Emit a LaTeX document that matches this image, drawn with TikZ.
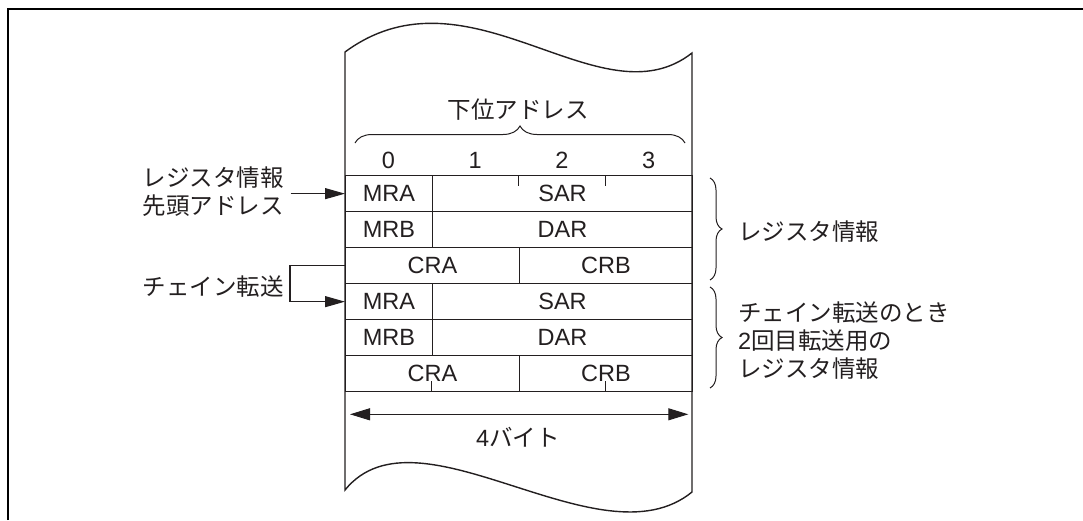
\documentclass[tikz,border=0pt]{standalone}
\usepackage{fontspec}
\setmainfont{Liberation Sans}
\newfontfamily\jp{Noto Sans CJK JP}
\definecolor{ink}{RGB}{35, 31, 32}
\usepackage{tikz}
\usetikzlibrary{arrows.meta, positioning, calc, decorations.pathreplacing}

\tikzset{
  txt/.style={font=\fontsize{23.5}{28}\selectfont, text=ink, inner sep=0pt},
  jptext/.style={font=\fontsize{23.5}{28}\selectfont\jp, text=ink, inner sep=0pt},
  cell/.style={draw=ink, line width=1.3pt, minimum height=36pt, inner sep=0pt,
    anchor=north west, font=\fontsize{23.5}{28}\selectfont, text=ink},
  pointer/.style={-{Triangle[length=20pt, width=11pt]}, draw=ink, line width=1.1pt},
  brace/.style={decorate, decoration={brace, amplitude=#1}, draw=ink, line width=1pt},
}

\begin{document}
\begin{tikzpicture}[x=1pt, y=-1pt]
  \useasboundingbox (0,0) rectangle (1083,520);

  %% FRAME
  \draw[line width=2.3pt] (8,520) -- (8,9) -- (1083,9);

  %% PAPER
  \filldraw[fill=white, draw=ink, line width=1.4pt]
    (345,52) .. controls (470,-40) and (600,125) .. (692,53)
    -- (692,492) .. controls (600,567) and (418,400) .. (345,490) -- cycle;

  %% LOWER ADDRESS
  \node[jptext] (lower) at (518,110) {下位アドレス};
  \draw[brace=17pt] (355,143) -- (685,143);
  \foreach \i in {0,...,3}
    \node[txt] (col\i) at (388.4+86.75*\i,160) {\i};

  %% REGISTER INFO
  \node[cell, minimum width=86.75pt]  (mra1) at (345,175) {MRA};
  \node[cell, minimum width=260.25pt] (sar1) at (431.75,175) {SAR};
  \node[cell, minimum width=86.75pt]  (mrb1) at (345,211) {MRB};
  \node[cell, minimum width=260.25pt] (dar1) at (431.75,211) {DAR};
  \node[cell, minimum width=173.5pt]  (cra1) at (345,247) {CRA};
  \node[cell, minimum width=173.5pt]  (crb1) at (518.5,247) {CRB};
  \draw[ink, line width=1pt] (518.5,175) -- ++(0,11) (605.25,175) -- ++(0,11);

  %% SECOND TRANSFER
  \node[cell, minimum width=86.75pt]  (mra2) at (345,283) {MRA};
  \node[cell, minimum width=260.25pt] (sar2) at (431.75,283) {SAR};
  \node[cell, minimum width=86.75pt]  (mrb2) at (345,319) {MRB};
  \node[cell, minimum width=260.25pt] (dar2) at (431.75,319) {DAR};
  \node[cell, minimum width=173.5pt]  (cra2) at (345,355) {CRA};
  \node[cell, minimum width=173.5pt]  (crb2) at (518.5,355) {CRB};
  \draw[ink, line width=1pt] (431.75,391) -- ++(0,-10) (605.25,391) -- ++(0,-10);

  %% 4 BYTES
  \draw[{Triangle[length=20pt, width=12pt]}-{Triangle[length=20pt, width=12pt]}, draw=ink, line width=1.1pt]
    ($(cra2.south west)+(5,22)$) -- ($(crb2.south east)+(-5,22)$);
  \node[txt] (bytes) at (518,437) {4{\jp バイト}};

  %% LEFT LABELS
  \node[jptext, align=center] (head) at (213,192) {レジスタ情報\\先頭アドレス};
  \draw[pointer, shorten <=7pt] (head.east |- mra1.west) -- (mra1.west);
  \node[jptext] (chain) at (213,287) {チェイン転送};
  \draw[pointer] (cra1.west) -- ++(-55,0) |- (mra2.west);

  %% RIGHT LABELS
  \draw[brace=12pt] (710,178) -- (710,280);
  \node[jptext, anchor=west] (reg) at (738,232) {レジスタ情報};
  \draw[brace=12pt] (710,287) -- (710,388);
  \node[jptext, anchor=west, align=left] (second) at (738,341)
    {チェイン転送のとき\\{\rmfamily 2}回目転送用の\\レジスタ情報};
\end{tikzpicture}
\end{document}
